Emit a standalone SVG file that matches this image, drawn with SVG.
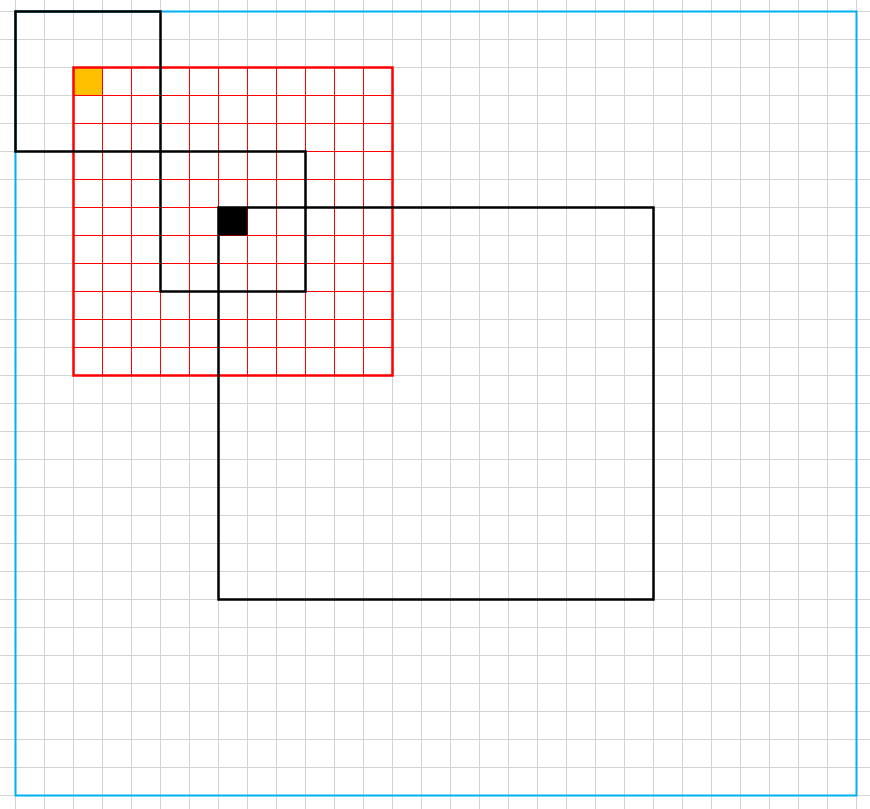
<svg xmlns="http://www.w3.org/2000/svg" width="870" height="809" viewBox="0 0 870 809">
<style>
.bg{fill:#ffffff}
.grid{stroke:#d3d3d3;stroke-width:1;fill:none}
.frame{stroke:#00b0f0;stroke-width:2;fill:none}
.rin{stroke:#ff0000;stroke-width:1;fill:none}
.rout{stroke:#ff0000;stroke-width:2.5;fill:none}
.win{stroke:#000000;stroke-width:2.5;fill:none}
</style>
<rect class="bg" x="0" y="0" width="870" height="809"/>
<g id="background-grid">
<path class="grid" d="M15.5 0V809M44.5 0V809M73.5 0V809M102.5 0V809M131.5 0V809M160.5 0V809M189.5 0V809M218.5 0V809M247.5 0V809M276.5 0V809M305.5 0V809M334.5 0V809M363.5 0V809M392.5 0V809M421.5 0V809M450.5 0V809M479.5 0V809M508.5 0V809M537.5 0V809M566.5 0V809M595.5 0V809M624.5 0V809M653.5 0V809M682.5 0V809M711.5 0V809M740.5 0V809M769.5 0V809M798.5 0V809M827.5 0V809M856.5 0V809"/>
<path class="grid" d="M0 11.5H870M0 39.5H870M0 67.5H870M0 95.5H870M0 123.5H870M0 151.5H870M0 179.5H870M0 207.5H870M0 235.5H870M0 263.5H870M0 291.5H870M0 319.5H870M0 347.5H870M0 375.5H870M0 403.5H870M0 431.5H870M0 459.5H870M0 487.5H870M0 515.5H870M0 543.5H870M0 571.5H870M0 599.5H870M0 627.5H870M0 655.5H870M0 683.5H870M0 711.5H870M0 739.5H870M0 767.5H870M0 795.5H870"/>
</g>
<g id="outer-frame">
<rect class="frame" x="15.5" y="11.5" width="841" height="784"/>
</g>
<g id="red-grid">
<path class="rin" d="M102.5 67.5V375.5M131.5 67.5V375.5M160.5 67.5V375.5M189.5 67.5V375.5M218.5 67.5V375.5M247.5 67.5V375.5M276.5 67.5V375.5M305.5 67.5V375.5M334.5 67.5V375.5M363.5 67.5V375.5"/>
<path class="rin" d="M73.5 95.5H392.5M73.5 123.5H392.5M73.5 151.5H392.5M73.5 179.5H392.5M73.5 207.5H392.5M73.5 235.5H392.5M73.5 263.5H392.5M73.5 291.5H392.5M73.5 319.5H392.5M73.5 347.5H392.5"/>
<rect id="orange-cell" x="73.5" y="67.5" width="29" height="28" fill="#ffc000" stroke="#ff0000" stroke-width="1"/>
<rect class="rout" x="73.5" y="67.5" width="319" height="308"/>
</g>
<g id="black-cell">
<rect x="218.5" y="207.5" width="29" height="28" fill="#000000"/>
</g>
<g id="window-1">
<rect class="win" x="15.5" y="11.5" width="145" height="140"/>
</g>
<g id="window-2">
<rect class="win" x="160.5" y="151.5" width="145" height="140"/>
</g>
<g id="window-3">
<rect class="win" x="218.5" y="207.5" width="435" height="392"/>
</g>
</svg>
